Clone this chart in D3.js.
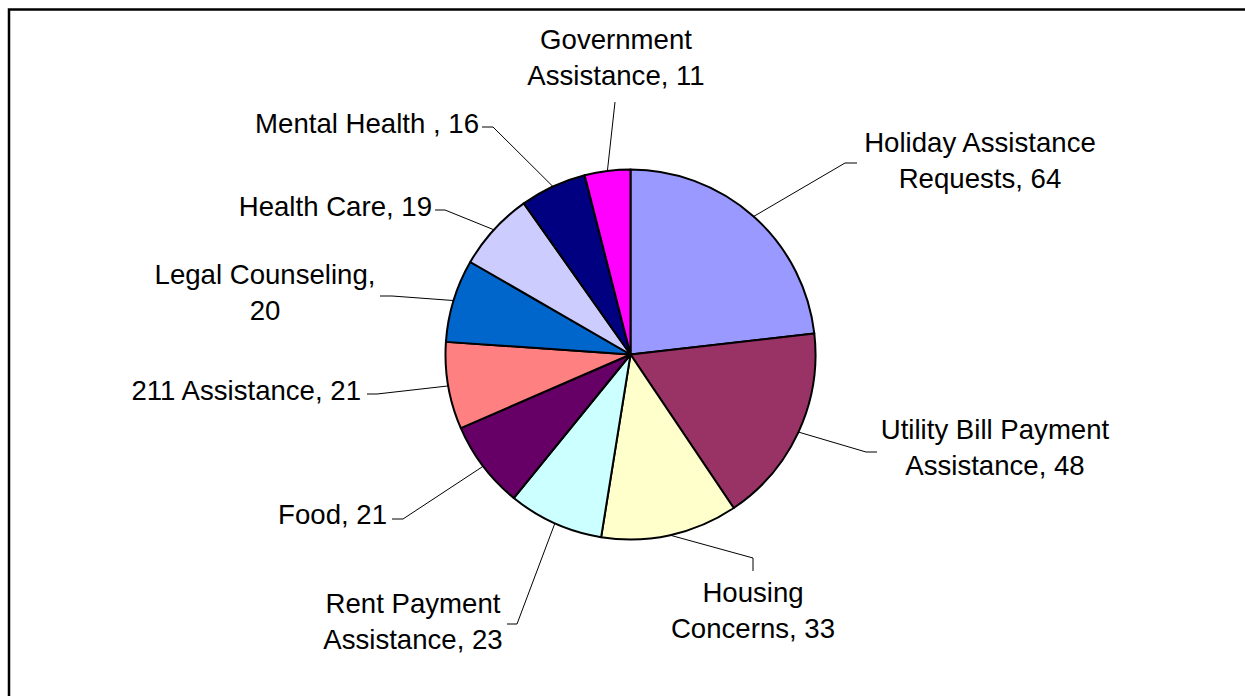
<!DOCTYPE html>
<html>
<head>
<meta charset="utf-8">
<script src="https://cdn.jsdelivr.net/npm/d3@7"></script>
<style>
  html, body { margin: 0; padding: 0; background: #fff; overflow: hidden; }
  svg { display: block; }
</style>
</head>
<body>
<svg id="chart" width="1245" height="696"></svg>
<script>
// ===== Data =====
const categories = [
    'Holiday Assistance Requests', 'Utility Bill Payment Assistance', 'Housing Concerns',
    'Rent Payment Assistance', 'Food', '211 Assistance', 'Legal Counseling',
    'Health Care', 'Mental Health ', 'Government Assistance'
];
const counts = [64, 48, 33, 23, 21, 21, 20, 19, 16, 11];
const sliceColors = [
    '#9999ff', '#993366', '#ffffcc', '#ccffff', '#660066',
    '#ff8080', '#0066cc', '#ccccff', '#000080', '#ff00ff'
];
// label text split in lines, as the reference wraps them
const labelLines = [
    ['Holiday Assistance', 'Requests, 64'],
    ['Utility Bill Payment', 'Assistance, 48'],
    ['Housing', 'Concerns, 33'],
    ['Rent Payment', 'Assistance, 23'],
    ['Food, 21'],
    ['211 Assistance, 21'],
    ['Legal Counseling,', '20'],
    ['Health Care, 19'],
    ['Mental Health , 16'],
    ['Government', 'Assistance, 11']
];

// ===== Layout =====
const W = 1245, H = 696;
const cx = 630.5, cy = 354.5, radius = 185;
const fontSize = 27.6, lineHeight = 36;
const fontFamily = '"Liberation Sans", Arial, Helvetica, sans-serif';

// leader elbow/end points and text anchor, one per slice (same order as data)
const labelLayout = [
    { pts: [[845, 163], [857, 163]], x: 980, y: 152, anchor: 'middle' },
    { pts: [[866, 452], [877, 452]], x: 995, y: 439, anchor: 'middle' },
    { pts: [[753, 558], [753, 571]], x: 753, y: 602, anchor: 'middle' },
    { pts: [[517, 624], [507, 624]], x: 413, y: 613, anchor: 'middle' },
    { pts: [[403, 519], [392, 519]], x: 387, y: 524, anchor: 'end' },
    { pts: [[377, 394], [367, 394]], x: 361, y: 400, anchor: 'end' },
    { pts: [[392, 296], [380, 296]], x: 265, y: 284, anchor: 'middle' },
    { pts: [[445, 210], [435, 210]], x: 432, y: 216, anchor: 'end' },
    { pts: [[493, 127], [482, 127]], x: 479, y: 133, anchor: 'end' },
    { pts: [[615, 102]],             x: 616, y: 49,  anchor: 'middle' }
];

const svg = d3.select('#chart');

// --- Chart frame (runs off the right/bottom of the picture) ---
svg.append('rect')
    .attr('x', 9).attr('y', 9.5)
    .attr('width', W + 40).attr('height', H + 40)
    .attr('fill', '#fff')
    .attr('stroke', '#000')
    .attr('stroke-width', 2.5);

const rows = categories.map((c, i) => ({ name: c, value: counts[i], i }));

const pie = d3.pie().sort(null).value(d => d.value).startAngle(0).endAngle(2 * Math.PI);
const arcs = pie(rows);

const arc = d3.arc().innerRadius(0).outerRadius(radius);
const edge = d3.arc().innerRadius(radius).outerRadius(radius);

const g = svg.append('g').attr('transform', `translate(${cx},${cy})`);

// --- Slices ---
g.selectAll('path.slice')
    .data(arcs)
    .join('path')
    .attr('class', 'slice')
    .attr('d', arc)
    .attr('fill', d => sliceColors[d.data.i])
    .attr('stroke', '#000')
    .attr('stroke-width', 2)
    .attr('stroke-linejoin', 'round');

// --- Leader lines ---
const line = d3.line();
svg.selectAll('path.leader')
    .data(arcs)
    .join('path')
    .attr('class', 'leader')
    .attr('d', d => {
        const [ex, ey] = edge.centroid(d);
        return line([[cx + ex, cy + ey]].concat(labelLayout[d.data.i].pts));
    })
    .attr('fill', 'none')
    .attr('stroke', '#000')
    .attr('stroke-width', 1);

// --- Labels ---
arcs.forEach(d => {
    const lay = labelLayout[d.data.i];
    const t = svg.append('text')
        .attr('x', lay.x).attr('y', lay.y)
        .style('font-size', fontSize + 'px')
        .style('font-family', fontFamily)
        .style('text-anchor', lay.anchor)
        .style('fill', '#000');
    labelLines[d.data.i].forEach((s, k) => {
        t.append('tspan')
            .attr('x', lay.x)
            .attr('y', lay.y + k * lineHeight)
            .attr('xml:space', 'preserve')
            .text(s);
    });
});
</script>
</body>
</html>
